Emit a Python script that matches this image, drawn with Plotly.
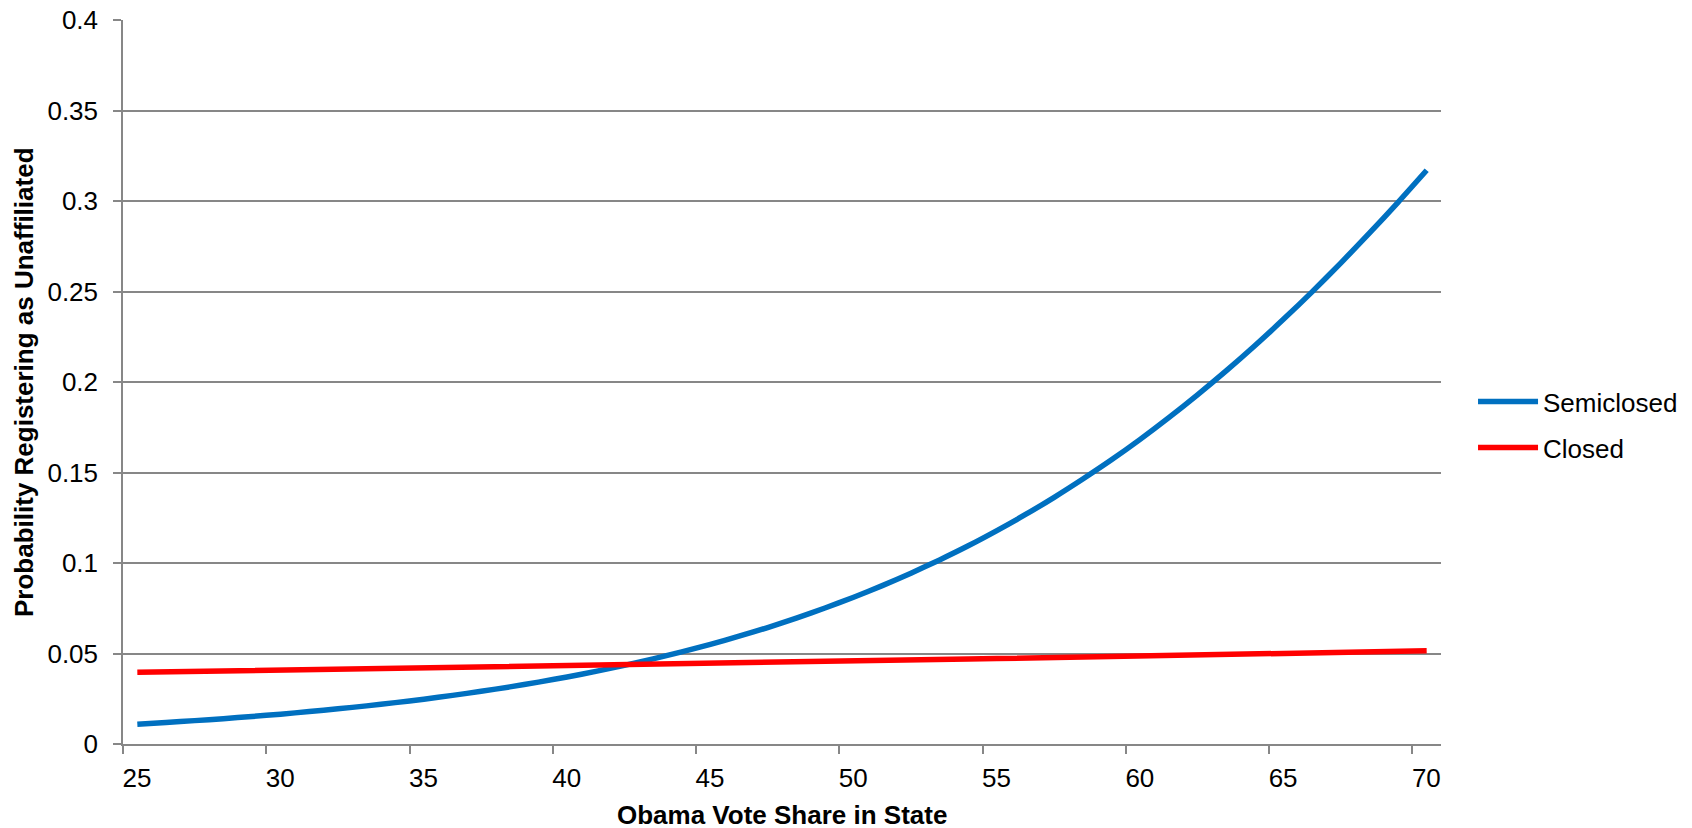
import plotly.graph_objects as go

# Obama vote share categories (x)
vote_share = list(range(25, 71))

semiclosed = [
    0.01096, 0.01189, 0.01291, 0.01401, 0.01520, 0.01650, 0.01790, 0.01942, 0.02107, 0.02285,
    0.02478, 0.02686, 0.02912, 0.03156, 0.03420, 0.03705, 0.04013, 0.04346, 0.04704, 0.05089,
    0.05507, 0.05956, 0.06435, 0.06954, 0.07513, 0.08110, 0.08749, 0.09436, 0.1017, 0.1095,
    0.1179, 0.1268, 0.1363, 0.1464, 0.1570, 0.1683, 0.1803, 0.1929, 0.2061, 0.2200,
    0.2346, 0.2498, 0.2657, 0.2822, 0.2993, 0.3170,
]

closed = [
    0.03960, 0.03983, 0.04007, 0.04031, 0.04054, 0.04078, 0.04102, 0.04126, 0.04150, 0.04175,
    0.04199, 0.04224, 0.04248, 0.04273, 0.04298, 0.04323, 0.04349, 0.04374, 0.04400, 0.04426,
    0.04452, 0.04478, 0.04504, 0.04530, 0.04557, 0.04583, 0.04610, 0.04637, 0.04664, 0.04692,
    0.04719, 0.04747, 0.04774, 0.04802, 0.04830, 0.04858, 0.04887, 0.04915, 0.04944, 0.04972,
    0.05001, 0.05030, 0.05059, 0.05089, 0.05118, 0.05148,
]

x_tick_labels = ["25", "30", "35", "40", "45", "50", "55", "60", "65", "70"]
y_tick_values = [0, 0.05, 0.1, 0.15, 0.2, 0.25, 0.3, 0.35, 0.4]
y_tick_labels = ["0", "0.05", "0.1", "0.15", "0.2", "0.25", "0.3", "0.35", "0.4"]

FONT = "Liberation Sans, Arial, sans-serif"
GRID = "#878787"
FS = 26

fig = go.Figure()
fig.add_trace(go.Scatter(
    x=vote_share, y=semiclosed, mode="lines", name="Semiclosed",
    legendgroup="a",
    line=dict(color="#0070C0", width=5.5, shape="spline", smoothing=0.6),
))
fig.add_trace(go.Scatter(
    x=vote_share, y=closed, mode="lines", name="Closed",
    legendgroup="b",
    line=dict(color="#FF0000", width=5.5),
))

# category boundaries for tick marks (labels shifted to category centres)
x_tick_positions = [int(t) - 0.5 for t in x_tick_labels]

fig.update_layout(
    width=1692, height=828,
    margin=dict(l=115, r=259, t=12, b=92, autoexpand=False),
    paper_bgcolor="white", plot_bgcolor="white",
    font=dict(family=FONT, size=FS, color="black"),
    showlegend=True,
    legend=dict(
        x=1.0243, y=0.441, xanchor="left", yanchor="middle",
        font=dict(size=FS), tracegroupgap=9, itemwidth=60,
        bgcolor="rgba(0,0,0,0)",
    ),
    xaxis=dict(
        range=[vote_share[0] - 0.5, vote_share[-1] + 0.5],
        tickmode="array", tickvals=x_tick_positions, ticktext=x_tick_labels,
        ticklabelshift=14, ticklabelstandoff=2, ticklabeloverflow="allow",
        ticks="outside", ticklen=8, tickwidth=1.5, tickcolor=GRID,
        showgrid=False, zeroline=False,
        showline=True, linecolor=GRID, linewidth=1.5,
        tickfont=dict(size=FS),
    ),
    yaxis=dict(
        range=[0, 0.4],
        tickmode="array", tickvals=y_tick_values, ticktext=y_tick_labels,
        ticks="outside", ticklen=8, tickwidth=1.5, tickcolor=GRID,
        ticklabelstandoff=10, ticklabeloverflow="allow",
        showgrid=True, gridcolor=GRID, gridwidth=1.5,
        zeroline=False,
        showline=True, linecolor=GRID, linewidth=1.5,
        tickfont=dict(size=FS),
    ),
    annotations=[
        dict(text="<b>Obama Vote Share in State</b>", xref="paper", yref="paper",
             x=0.5, y=-0.098, xanchor="center", yanchor="middle", showarrow=False,
             font=dict(size=FS)),
        dict(text="<b>Probability Registering as Unaffiliated</b>", xref="paper", yref="paper",
             x=-0.0751, y=0.5, xanchor="center", yanchor="middle", textangle=-90,
             showarrow=False, font=dict(size=FS)),
    ],
)

fig.write_html("out.html")
